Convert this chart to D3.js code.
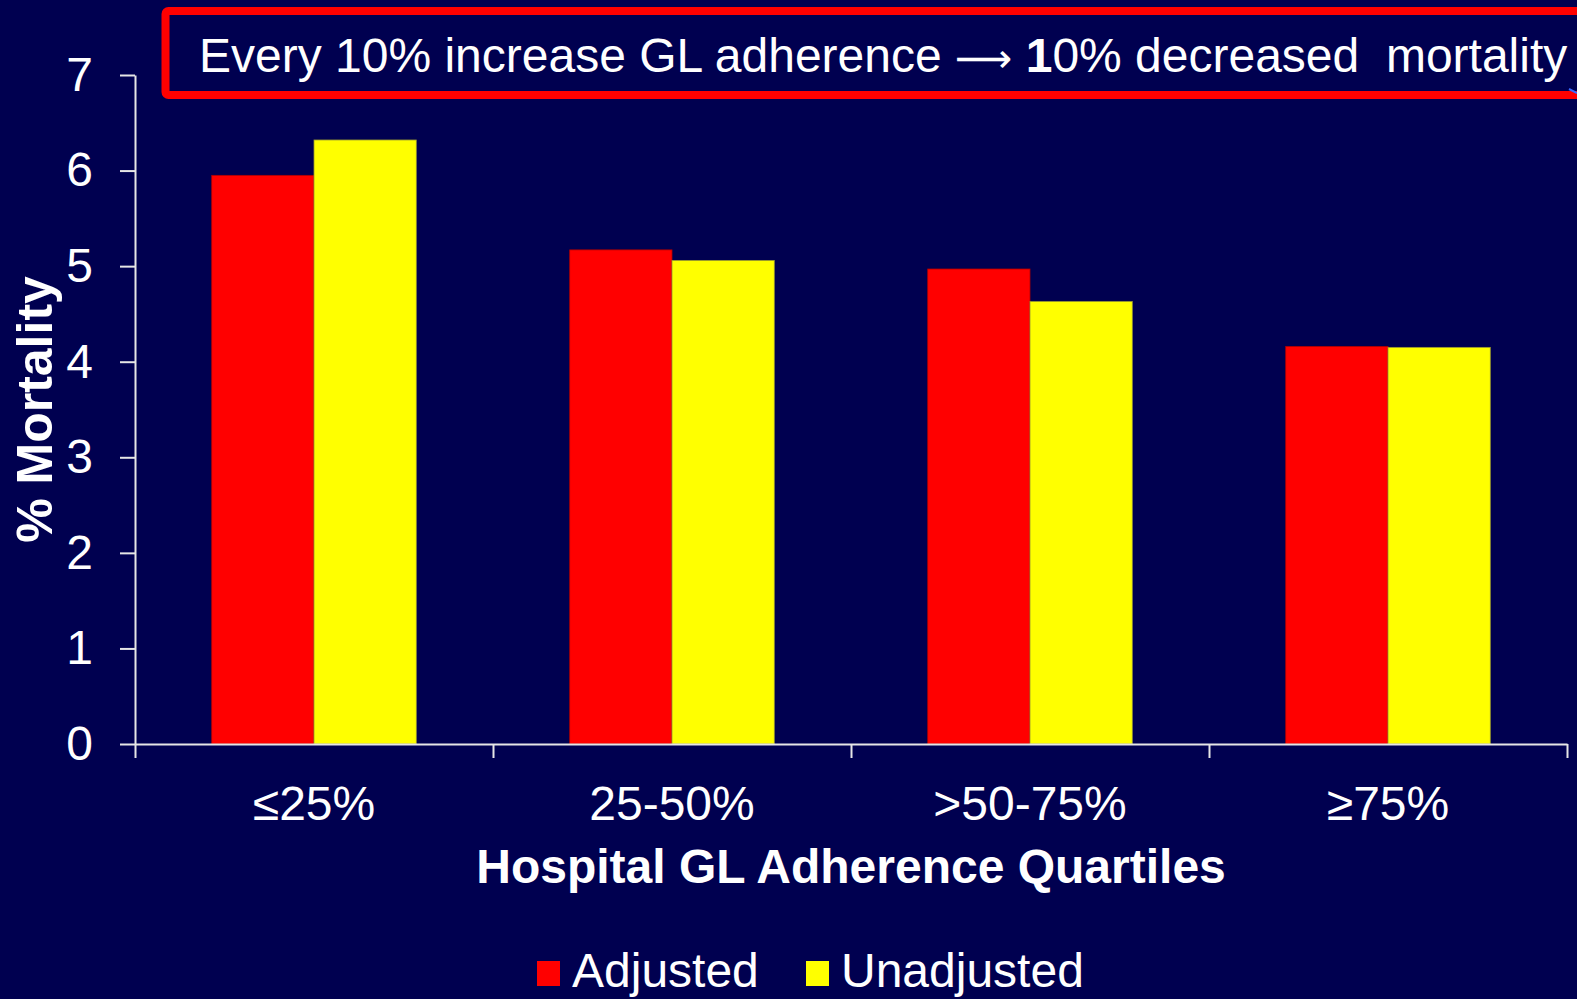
<!DOCTYPE html>
<html>
<head>
<meta charset="utf-8">
<script src="https://cdn.jsdelivr.net/npm/d3@7"></script>
<style>
  html, body { margin: 0; padding: 0; background: #000050; }
  svg { display: block; }
  text { font-family: "Liberation Sans", Arial, Helvetica, sans-serif; fill: #ffffff; }
</style>
</head>
<body>
<svg id="chart" width="1577" height="999"></svg>
<script>
// Mortality by hospital guideline-adherence quartile
const categories = ["≤25%", "25-50%", ">50-75%", "≥75%"];
const seriesNames = ["Adjusted", "Unadjusted"];
const adjusted = [5.95, 5.17, 4.97, 4.16];
const unadjusted = [6.32, 5.06, 4.63, 4.15];
const yTicks = [0, 1, 2, 3, 4, 5, 6, 7];
const seriesColors = ["#ff0000", "#ffff00"];

const W = 1577, H = 999;
const plot = { left: 135, right: 1567, top: 75, bottom: 744 };

const svg = d3.select("#chart");
svg.append("rect").attr("width", W).attr("height", H).attr("fill", "#000050");

const y = d3.scaleLinear().domain([0, 7]).range([plot.bottom, plot.top]);
const x0 = d3.scaleBand().domain(categories).range([plot.left, plot.right]).padding(0);
const x1 = d3.scaleBand().domain(seriesNames).range([0, x0.bandwidth()])
  .paddingInner(0).paddingOuter(0.75);
const color = d3.scaleOrdinal().domain(seriesNames).range(seriesColors);

const rows = categories.map((c, i) => ({
  category: c,
  values: [
    { name: "Adjusted", value: adjusted[i] },
    { name: "Unadjusted", value: unadjusted[i] }
  ]
}));

// Bars
const groups = svg.append("g").selectAll("g")
  .data(rows).join("g")
  .attr("transform", d => `translate(${x0(d.category)},0)`);

groups.selectAll("rect")
  .data(d => d.values).join("rect")
  .attr("x", d => x1(d.name))
  .attr("y", d => y(d.value))
  .attr("width", x1.bandwidth())
  .attr("height", d => y(0) - y(d.value))
  .attr("fill", d => color(d.name))
  .attr("stroke", d => d.name === "Adjusted" ? "#b00000" : "#9a9a30")
  .attr("stroke-width", 0.8);

const axisColor = "#e6e6e6";

// Y axis
const yAxis = svg.append("g")
  .attr("transform", `translate(${plot.left},0)`)
  .call(d3.axisLeft(y).tickValues(yTicks).tickFormat(d3.format("d"))
    .tickSize(15).tickSizeOuter(0).tickPadding(27));
yAxis.selectAll("path, line").attr("stroke", axisColor).attr("stroke-width", 2);
yAxis.selectAll("text")
  .attr("fill", "#ffffff")
  .style("font-size", "48px")
  .style("font-family", "'Liberation Sans', Arial, sans-serif");

// X axis: line with boundary ticks between quartiles
const xEdge = d3.scaleLinear().domain([0, categories.length]).range([plot.left, plot.right]);
const xAxis = svg.append("g")
  .attr("transform", `translate(0,${plot.bottom})`)
  .call(d3.axisBottom(xEdge).tickValues(d3.range(categories.length + 1))
    .tickFormat("").tickSize(14).tickSizeOuter(0));
xAxis.selectAll("path, line").attr("stroke", axisColor).attr("stroke-width", 2);

// Category labels
const xLabels = svg.append("g")
  .attr("transform", `translate(0,${plot.bottom})`)
  .call(d3.axisBottom(x0).tickSize(0));
xLabels.select(".domain").remove();
xLabels.selectAll("text")
  .attr("y", 76).attr("dy", 0)
  .attr("fill", "#ffffff")
  .style("font-size", "48px")
  .style("font-family", "'Liberation Sans', Arial, sans-serif");

// Axis titles
svg.append("text")
  .attr("x", (plot.left + plot.right) / 2)
  .attr("y", 883)
  .attr("text-anchor", "middle")
  .style("font-size", "48px")
  .style("font-weight", "bold")
  .text("Hospital GL Adherence Quartiles");

svg.append("text")
  .attr("transform", `translate(52,${(plot.top + plot.bottom) / 2}) rotate(-90)`)
  .attr("text-anchor", "middle")
  .style("font-size", "50px")
  .style("font-weight", "bold")
  .text("% Mortality");

// Callout box
svg.append("rect")
  .attr("x", 165.5).attr("y", 11)
  .attr("width", 1440).attr("height", 84)
  .attr("rx", 3)
  .attr("fill", "none")
  .attr("stroke", "#ff0000")
  .attr("stroke-width", 8);

svg.append("line")
  .attr("x1", 1569).attr("y1", 89).attr("x2", 1577).attr("y2", 93)
  .attr("stroke", "#3a6bff").attr("stroke-width", 2);

const note = svg.append("text")
  .attr("x", 199).attr("y", 72)
  .attr("xml:space", "preserve")
  .style("white-space", "pre")
  .style("font-size", "48px");
note.append("tspan").text("Every 10% increase GL adherence ");
note.append("tspan").style("font-family", "'DejaVu Sans', sans-serif").style("font-size", "40px").text("\u27F6");
note.append("tspan").text(" ");
note.append("tspan").style("font-weight", "bold").text("1");
note.append("tspan").text("0% decreased  mortality");

// Legend
const legendItems = [
  { name: "Adjusted", sx: 537, tx: 572 },
  { name: "Unadjusted", sx: 806, tx: 841 }
];
const legend = svg.append("g");
legend.selectAll("rect")
  .data(legendItems).join("rect")
  .attr("x", d => d.sx).attr("y", 961)
  .attr("width", 23).attr("height", 25)
  .attr("fill", d => color(d.name));
legend.selectAll("text")
  .data(legendItems).join("text")
  .attr("x", d => d.tx).attr("y", 987)
  .style("font-size", "48px")
  .text(d => d.name);
</script>
</body>
</html>
